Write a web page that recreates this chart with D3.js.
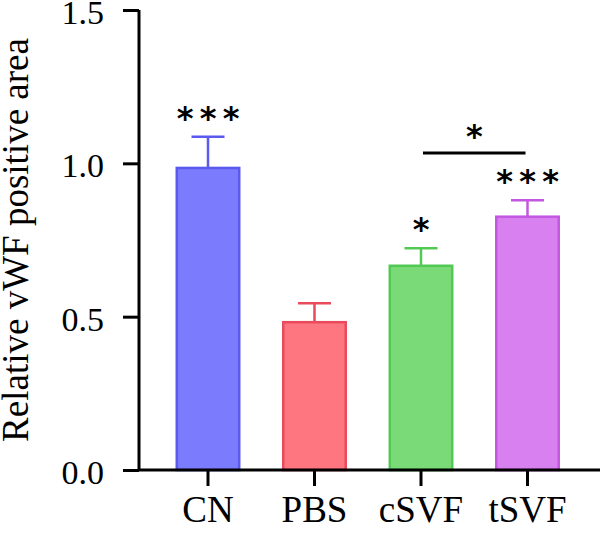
<!DOCTYPE html>
<html><head><meta charset="utf-8">
<script src="https://cdn.jsdelivr.net/npm/d3@7"></script>
<style>html,body{margin:0;padding:0;background:#fff;}svg{display:block;}</style>
</head><body>
<script>
const categories = ["CN", "PBS", "cSVF", "tSVF"];
const means = [0.985, 0.482, 0.666, 0.826];
const errors = [0.102, 0.062, 0.057, 0.054];
const starCounts = [3, 0, 1, 3];
const yTicks = [0, 0.5, 1.0, 1.5];
const fills = ["#7b7bfd", "#fd7680", "#7ada77", "#d880ef"];
const strokes = ["#5a5aee", "#e94a5c", "#52c955", "#c357e1"];
const bracket = {from: "cSVF", to: "tSVF", count: 1};

const W = 600, H = 533;
const svg = d3.select("body").append("svg").attr("width", W).attr("height", H);
const font = "'Liberation Serif', 'DejaVu Serif', serif";
const starFont = "'DejaVu Sans', sans-serif";

const y = d3.scaleLinear().domain([0, 1.5]).range([470, 10]);
const x = d3.scaleBand().domain(categories).range([154.75, 580.75]).paddingInner(0.39).paddingOuter(0.195);

function drawStars(cx, baseline, n) {
  for (let k = 0; k < n; k++) {
    svg.append("text").attr("x", cx + (k - (n - 1) / 2) * 23).attr("y", baseline)
      .attr("text-anchor", "middle").attr("font-family", starFont).attr("font-weight", "bold")
      .attr("font-size", 32).attr("fill", "#000").text("*");
  }
}

const g = svg.append("g");
categories.forEach((c, i) => {
  const cx = x(c) + x.bandwidth() / 2;
  const top = y(means[i] + errors[i]);
  g.append("line").attr("x1", cx).attr("x2", cx).attr("y1", y(means[i])).attr("y2", top)
    .attr("stroke", strokes[i]).attr("stroke-width", 2.5);
  g.append("line").attr("x1", cx - 16.5).attr("x2", cx + 16.5).attr("y1", top).attr("y2", top)
    .attr("stroke", strokes[i]).attr("stroke-width", 2.5);
  g.append("rect").attr("x", x(c) + 1.25).attr("width", x.bandwidth() - 2.5)
    .attr("y", y(means[i])).attr("height", y(0) - y(means[i]))
    .attr("fill", fills[i]).attr("stroke", strokes[i]).attr("stroke-width", 2.5);
  if (starCounts[i]) drawStars(cx, top - 8, starCounts[i]);
});

// bracket
const bx1 = x(bracket.from) + x.bandwidth() / 2 + 2, bx2 = x(bracket.to) + x.bandwidth() / 2 - 2;
svg.append("line").attr("x1", bx1).attr("x2", bx2).attr("y1", 153).attr("y2", 153).attr("stroke", "#000").attr("stroke-width", 3);
drawStars((bx1 + bx2) / 2, 153 - 6, bracket.count);

// y axis
const ya = svg.append("g").attr("transform", "translate(139,0)")
  .call(d3.axisLeft(y).tickValues(yTicks).tickFormat(d3.format(".1f")).tickSize(16).tickPadding(19));
ya.select(".domain").attr("stroke-width", 3).attr("d", `M0,${y(1.5)}V${y(0)}`);
ya.selectAll(".tick line").attr("stroke-width", 3);
ya.selectAll("text").attr("font-family", font).attr("font-size", 34).attr("dy", "0.4em").attr("fill", "#000");

// x axis
const xa = svg.append("g").attr("transform", "translate(0,470)")
  .call(d3.axisBottom(x).tickSize(16).tickPadding(10));
xa.select(".domain").attr("stroke-width", 3).attr("d", `M139,0H600`);
xa.selectAll(".tick line").attr("stroke-width", 3);
xa.selectAll("text").attr("font-family", font).attr("font-size", 37).attr("fill", "#000");

// y label
svg.append("text").attr("transform", "translate(28,240) rotate(-90)").attr("text-anchor", "middle")
  .attr("font-family", font).attr("font-size", 37).attr("fill", "#000").text("Relative vWF positive area");
</script>
</body></html>
